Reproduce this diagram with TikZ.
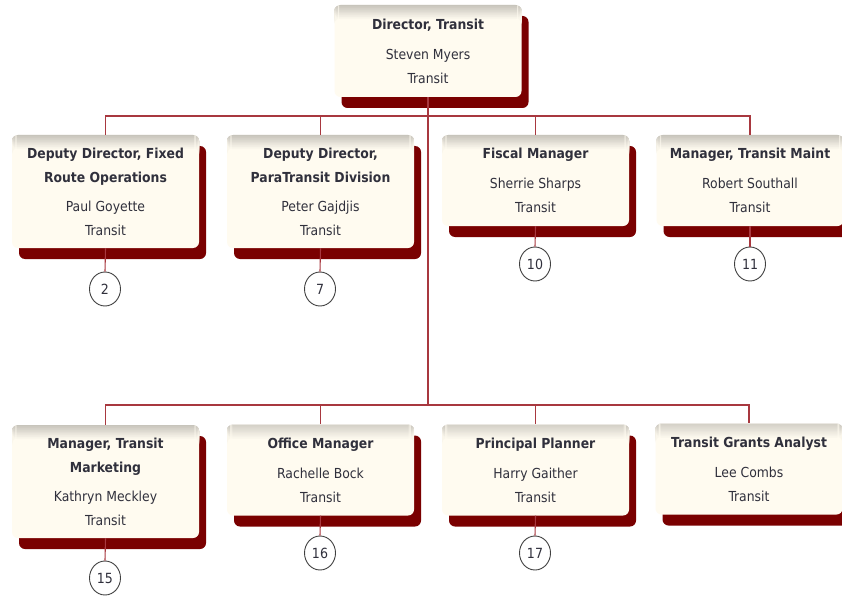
\documentclass[tikz,border=0pt]{standalone}
\usepackage{fontspec}
\setmainfont{DejaVu Sans Condensed}
\usetikzlibrary{shadows,shapes.geometric}
\definecolor{cream}{HTML}{FFFBF0}
\definecolor{shadowred}{HTML}{7A0000}
\definecolor{linered}{HTML}{A8383F}
\definecolor{txt}{HTML}{30303C}
\tikzset{
 orgbox/.style={draw=none, fill=cream, rounded corners=6pt, minimum width=187pt, inner sep=0pt, align=center, text=txt,
   font=\fontsize{13.8}{24}\selectfont,
   drop shadow={shadow xshift=7pt, shadow yshift=-11pt, fill=shadowred, opacity=1},
   path picture={\foreach \i in {0,...,13}{\pgfmathtruncatemacro\pc{round(22*(1-\i/14))}
      \fill[black!\pc!cream] ([yshift=-\i pt]path picture bounding box.north west) rectangle ([yshift=-\i pt-1.05pt]path picture bounding box.north east);}}},
 tall/.style={minimum height=113pt},
 short/.style={minimum height=91pt},
 conn/.style={draw=linered, line width=1.1pt},
 count/.style={ellipse, draw=black!75, line width=0.9pt, fill=white, minimum width=31pt, minimum height=34pt, inner sep=0pt, text=txt, font=\fontsize{14}{15}\selectfont},
}
\begin{document}
\begin{tikzpicture}[x=1pt,y=-1pt]
\useasboundingbox (0,0) rectangle (842,596);
\clip (0,0) rectangle (842,596);
\fill[white] (0,0) rectangle (842,596);
% top
\node[orgbox, minimum height=92pt] (top) at (428,51) {\textbf{Director, Transit}\\[6pt] Steven Myers\\ Transit};
% row 1
\node[orgbox, tall] (a1) at (105.5,191.5) {\textbf{Deputy Director, Fixed}\\ \textbf{Route Operations}\\[5pt] Paul Goyette\\ Transit};
\node[orgbox, tall] (a2) at (320.5,191.5) {\textbf{Deputy Director,}\\ \textbf{ParaTransit Division}\\[5pt] Peter Gajdjis\\ Transit};
\node[orgbox, short] (a3) at (535.5,180.5) {\textbf{Fiscal Manager}\\[6pt] Sherrie Sharps\\ Transit};
\node[orgbox, short] (a4) at (750,180.5) {\textbf{Manager, Transit Maint}\\[6pt] Robert Southall\\ Transit};
% row 2
\node[orgbox, tall] (m1) at (105.5,481.5) {\textbf{Manager, Transit}\\ \textbf{Marketing}\\[5pt] Kathryn Meckley\\ Transit};
\node[orgbox, short] (m2) at (320.5,470) {\textbf{Office Manager}\\[6pt] Rachelle Bock\\ Transit};
\node[orgbox, short] (m3) at (535.5,470) {\textbf{Principal Planner}\\[6pt] Harry Gaither\\ Transit};
\node[orgbox, short] (m4) at (749,469) {\textbf{Transit Grants Analyst}\\[6pt] Lee Combs\\ Transit};
% count circles
\node[count] (c1) at (105,289) {2};
\node[count] (c2) at (320,289) {7};
\node[count] (c3) at (535,264) {10};
\node[count] (c4) at (750,264) {11};
\node[count] (c5) at (105,578) {15};
\node[count] (c6) at (320,553) {16};
\node[count] (c7) at (535,553) {17};
% connectors
\coordinate (j1) at (428,116);
\coordinate (j2) at (428,405);
\draw[conn] (top.south) -- (j2);
\foreach \n in {a1,a2,a3,a4} \draw[conn] (j1) -| (\n.north);
\foreach \n in {m1,m2,m3,m4} \draw[conn] (j2) -| (\n.north);
\foreach \b/\c in {a1/c1,a2/c2,a3/c3,a4/c4,m1/c5,m2/c6,m3/c7} \draw[conn] (\b.south) -- (\c.north);
\end{tikzpicture}
\end{document}
